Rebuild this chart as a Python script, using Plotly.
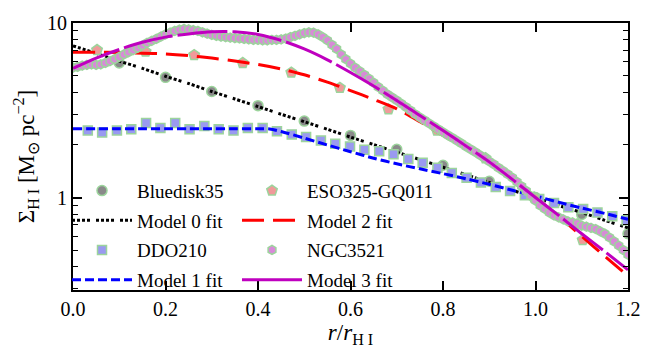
import plotly.graph_objects as go

# ---- radial sample points (r / r_HI) ----
r_fit = [0.00, 0.05, 0.10, 0.15, 0.20, 0.25, 0.30, 0.35, 0.40, 0.45, 0.50, 0.55,
         0.60, 0.65, 0.70, 0.75, 0.80, 0.85, 0.90, 0.95, 1.00, 1.05, 1.10, 1.15, 1.20]
r_fit1 = [0.00, 0.05, 0.10, 0.15, 0.20, 0.25, 0.30, 0.35, 0.40, 0.425, 0.45, 0.50, 0.55,
          0.60, 0.65, 0.70, 0.75, 0.80, 0.85, 0.90, 0.95, 1.00, 1.05, 1.10, 1.15, 1.20]

# ---- model fits ----
model0 = [7.40, 6.70, 6.05, 5.50, 4.95, 4.50, 4.05, 3.67, 3.32, 3.00, 2.72, 2.46,
          2.22, 2.01, 1.82, 1.65, 1.49, 1.35, 1.22, 1.10, 1.00, 0.90, 0.82, 0.74, 0.67]
model1 = [2.48, 2.48, 2.48, 2.48, 2.48, 2.48, 2.48, 2.48, 2.48, 2.47, 2.39, 2.19, 2.00,
          1.83, 1.68, 1.56, 1.46, 1.37, 1.28, 1.19, 1.10, 1.02, 0.94, 0.87, 0.81, 0.75]
model2 = [6.80, 6.80, 6.78, 6.72, 6.65, 6.50, 6.30, 6.05, 5.78, 5.45, 5.05, 4.58,
          4.10, 3.65, 3.22, 2.72, 2.27, 1.90, 1.57, 1.27, 1.00, 0.78, 0.60, 0.46, 0.355]
model3 = [5.50, 6.30, 7.05, 7.75, 8.30, 8.65, 8.90, 8.90, 8.60, 7.95, 7.10, 6.15,
          5.20, 4.35, 3.60, 2.95, 2.42, 1.97, 1.60, 1.27, 1.00, 0.79, 0.62, 0.49, 0.385]

# ---- Bluedisk35 ----
r_blue = [0.1, 0.2, 0.3, 0.4, 0.5, 0.6, 0.7, 0.8, 0.9, 1.0, 1.1, 1.2]
sig_blue = [5.9, 4.88, 4.05, 3.36, 2.74, 2.27, 1.89, 1.53, 1.24, 1.0, 0.80, 0.62]

# ---- DDO210 ----
r_ddo = [0.032, 0.063, 0.095, 0.126, 0.158, 0.189, 0.221, 0.252, 0.284, 0.315,
         0.347, 0.378, 0.410, 0.441, 0.473, 0.504, 0.536, 0.567, 0.599, 0.630,
         0.662, 0.693, 0.725, 0.756, 0.788, 0.819, 0.851, 0.882, 0.914, 0.945,
         0.977, 1.008, 1.040, 1.071, 1.103, 1.134, 1.166, 1.197]
sig_ddo = [2.42, 2.36, 2.42, 2.46, 2.67, 2.50, 2.67, 2.46, 2.57, 2.46,
           2.42, 2.50, 2.50, 2.40, 2.30, 2.22, 2.12, 2.03, 1.96, 1.88,
           1.84, 1.77, 1.66, 1.58, 1.48, 1.38, 1.30, 1.22, 1.15, 1.09,
           1.03, 0.98, 0.93, 0.88, 0.86, 0.82, 0.78, 0.74]

# ---- ESO325-GQ011 ----
r_eso = [0.052, 0.157, 0.262, 0.367, 0.472, 0.577, 0.682, 0.787, 0.892, 0.997, 1.102]
sig_eso = [7.0, 6.85, 6.55, 5.9, 5.2, 4.25, 3.2, 2.42, 1.68, 1.0, 0.57]

# ---- NGC3521 ----
r_ngc = [i / 100 for i in range(121)]
sig_ngc = [5.55, 5.60, 5.70, 5.75, 5.80, 5.75, 5.80, 5.90, 6.05, 6.20,
           6.40, 6.60, 6.80, 7.00, 7.20, 7.45, 7.70, 7.90, 8.10, 8.35,
           8.60, 8.80, 9.00, 9.15, 9.25, 9.20, 9.10, 9.00, 8.85, 8.70,
           8.55, 8.45, 8.35, 8.30, 8.25, 8.20, 8.15, 8.10, 8.05, 8.00,
           8.00, 7.95, 7.95, 8.00, 8.00, 8.05, 8.15, 8.30, 8.45, 8.60,
           8.75, 8.85, 8.80, 8.60, 8.30, 7.95, 7.50, 7.10, 6.60, 6.20,
           5.85, 5.55, 5.30, 5.05, 4.80, 4.55, 4.30, 4.10, 3.90, 3.75,
           3.60, 3.45, 3.30, 3.15, 3.00, 2.88, 2.77, 2.66, 2.56, 2.46,
           2.37, 2.28, 2.20, 2.12, 2.04, 1.96, 1.89, 1.82, 1.75, 1.68,
           1.61, 1.55, 1.48, 1.42, 1.36, 1.30, 1.23, 1.16, 1.09, 1.02,
           0.96, 0.90, 0.86, 0.82, 0.79, 0.77, 0.75, 0.73, 0.72, 0.71,
           0.69, 0.68, 0.67, 0.66, 0.64, 0.62, 0.59, 0.56, 0.53, 0.50, 0.47]

EDGE = "#9cd49c"
SERIF = "Liberation Serif"

fig = go.Figure()


def add_data(x, y, name, symbol, color, size, legend):
    fig.add_trace(go.Scatter(
        x=x, y=y, mode="markers", name=name, legend=legend, legendgroup=name,
        marker=dict(symbol=symbol, color=color, size=size,
                    line=dict(color=EDGE, width=1.5)),
    ))


def add_fit(x, y, name, color, dash, width, legend, legend_dash=None):
    # when the legend sample needs a different dash than the curve,
    # the curve is hidden from the legend and an empty entry stands in
    fig.add_trace(go.Scatter(
        x=x, y=y, mode="lines", name=name, legend=legend, legendgroup=name,
        showlegend=legend_dash is None,
        line=dict(color=color, dash=dash, width=width, shape="spline", smoothing=0.8),
    ))
    if legend_dash is not None:
        fig.add_trace(go.Scatter(
            x=[None], y=[None], mode="lines", name=name, legend=legend,
            legendgroup=name, line=dict(color=color, dash=legend_dash, width=width),
        ))


add_data(r_blue, sig_blue, "Bluedisk35", "circle", "#8a8a8a", 10, "legend")
add_fit(r_fit, model0, "Model 0 fit", "black", "3px,2px,3px,2px,3px,2px,3px,6px", 3, "legend")
add_data(r_ddo, sig_ddo, "DDO210", "square", "#9a9af0", 9, "legend")
add_fit(r_fit1, model1, "Model 1 fit", "#0000ff", "9px,4px", 3, "legend")
add_data(r_eso, sig_eso, "ESO325-GQ011", "pentagon", "#f09a9a", 11, "legend2")
add_fit(r_fit, model2, "Model 2 fit", "#ff0000", "22px,9px", 3, "legend2")
add_data(r_ngc, sig_ngc, "NGC3521", "hexagon", "#d88ad8", 9, "legend2")
add_fit(r_fit, model3, "Model 3 fit", "#bf00bf", "50px,5px", 3, "legend2", legend_dash="solid")


def legend_box(xpos):
    return dict(
        x=xpos, y=0.443, xanchor="left", yanchor="top", orientation="v",
        bgcolor="rgba(0,0,0,0)", borderwidth=0,
        font=dict(family=SERIF, size=19, color="black"),
        itemwidth=60, tracegroupgap=2,
    )


fig.update_layout(
    width=656, height=348,
    margin=dict(l=73, r=28, t=14, b=51),
    plot_bgcolor="white", paper_bgcolor="white",
    font=dict(family=SERIF, size=20, color="black"),
    showlegend=True,
    legend=legend_box(-0.0108),
    legend2=legend_box(0.2955),
    xaxis=dict(
        range=[0, 1.2], tickmode="array",
        tickvals=[0.0, 0.2, 0.4, 0.6, 0.8, 1.0, 1.2],
        ticktext=["0.0", "0.2", "0.4", "0.6", "0.8", "1.0", "1.2"],
        ticks="inside", ticklen=9, tickwidth=1.5, tickcolor="black",
        showline=True, linecolor="black", linewidth=2, mirror="allticks",
        showgrid=False, zeroline=False,
        tickfont=dict(family=SERIF, size=20),
        title=dict(text="<i>r</i>/<i>r</i><sub>H I</sub>",
                   font=dict(family=SERIF, size=23), standoff=0),
    ),
    yaxis=dict(
        type="log", range=[-0.53, 1.0],
        tickmode="array", tickvals=[1, 10], ticktext=["1", "10"],
        ticks="inside", ticklen=9, tickwidth=1.5, tickcolor="black",
        showline=True, linecolor="black", linewidth=2, mirror="allticks",
        showgrid=False, zeroline=False,
        tickfont=dict(family=SERIF, size=20),
        minor=dict(tickmode="array",
                   tickvals=[0.3, 0.4, 0.5, 0.6, 0.7, 0.8, 0.9,
                             2, 3, 4, 5, 6, 7, 8, 9],
                   ticks="inside", ticklen=5, tickwidth=1.2, tickcolor="black",
                   showgrid=False),
        title=dict(text="Σ<sub>H I</sub> [M<sub>⊙</sub> pc<sup>−2</sup>]",
                   font=dict(family=SERIF, size=23), standoff=6),
    ),
)

fig.write_html("out.html")
